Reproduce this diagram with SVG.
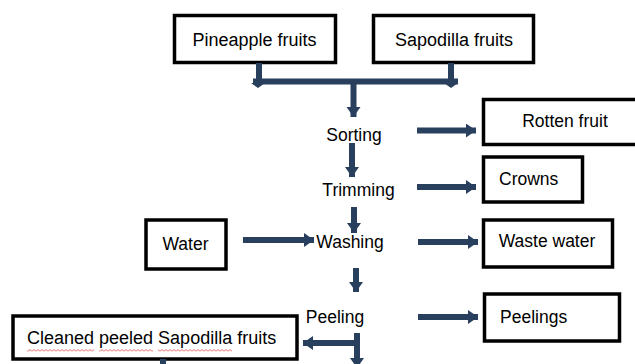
<svg xmlns="http://www.w3.org/2000/svg" width="635" height="364" viewBox="0 0 635 364">
<style>
.box{fill:#fff;stroke:#000;stroke-width:3.5}
.t{font-family:"Liberation Sans",Arial,sans-serif;font-size:17.5px;fill:#000}
.c{text-anchor:middle}
.a{stroke:#283f5e;stroke-width:6;fill:none}
.ah{stroke:#283f5e;stroke-width:6;fill:none;marker-end:url(#head)}
</style>
<defs>
<marker id="head" markerUnits="userSpaceOnUse" markerWidth="12" markerHeight="16" refX="10" refY="7" orient="auto">
<path d="M0,0 L10,7 L0,14 z" fill="#283f5e"/>
</marker>
<pattern id="wave" patternUnits="userSpaceOnUse" x="0" y="349" width="4" height="3">
<path d="M0,2.5 L2,0.5 L4,2.5" fill="none" stroke="#e03030" stroke-width="0.8"/>
</pattern>
</defs>

<g id="pineapple">
<rect class="box" x="174.5" y="15.5" width="161" height="47"/>
<text class="t c" x="254.5" y="46" style="font-size:18px">Pineapple fruits</text>
</g>
<g id="sapodilla">
<rect class="box" x="373.5" y="15.5" width="160" height="47"/>
<text class="t c" x="454" y="46" style="font-size:18px">Sapodilla fruits</text>
</g>
<g id="sorting"><text class="t c" x="354" y="141">Sorting</text></g>
<g id="trimming"><text class="t c" x="358.5" y="196">Trimming</text></g>
<g id="washing"><text class="t c" x="350" y="248">Washing</text></g>
<g id="peeling"><text class="t c" x="335" y="323">Peeling</text></g>
<g id="rotten">
<rect class="box" x="483.5" y="99.5" width="155" height="45"/>
<text class="t c" x="565" y="127">Rotten fruit</text>
</g>
<g id="crowns">
<rect class="box" x="483.5" y="157" width="99" height="45"/>
<text class="t" x="499" y="185">Crowns</text>
</g>
<g id="water">
<rect class="box" x="146" y="220" width="80" height="49"/>
<text class="t c" x="185.5" y="250">Water</text>
</g>
<g id="wastewater">
<rect class="box" x="483.5" y="220" width="129" height="47"/>
<text class="t c" x="547" y="247">Waste water</text>
</g>
<g id="peelings">
<rect class="box" x="484.5" y="294" width="135" height="47"/>
<text class="t" x="500" y="323">Peelings</text>
</g>
<g id="cleaned">
<rect class="box" x="13" y="316" width="284" height="43"/>
<text class="t" x="27" y="344" style="font-size:18px">Cleaned peeled Sapodilla fruits</text>
<rect x="27" y="349" width="67" height="3" fill="url(#wave)"/>
<rect x="99" y="349" width="54" height="3" fill="url(#wave)"/>
<rect x="158" y="349" width="74" height="3" fill="url(#wave)"/>
</g>

<g id="connectors">
<line class="a" x1="259" y1="63" x2="259" y2="82"/>
<line class="a" x1="451" y1="63" x2="451" y2="82"/>
<line class="a" x1="253" y1="81.5" x2="458" y2="81.5"/>
<path d="M251,83 L265,83 L258,88 z" fill="#283f5e"/>
<path d="M444,83 L458,83 L451,88 z" fill="#283f5e"/>
<line class="ah" x1="353.5" y1="84" x2="353.5" y2="117"/>
<line class="ah" x1="352" y1="143" x2="352" y2="177"/>
<line class="ah" x1="354" y1="207" x2="354" y2="233"/>
<line class="ah" x1="356" y1="268" x2="356" y2="292"/>
<line class="ah" x1="417" y1="130.5" x2="476" y2="130.5"/>
<line class="ah" x1="417" y1="187" x2="476" y2="187"/>
<line class="ah" x1="243" y1="240" x2="314" y2="240"/>
<line class="ah" x1="418" y1="242" x2="478" y2="242"/>
<line class="ah" x1="418" y1="317" x2="478" y2="317"/>
<line class="ah" x1="357" y1="333" x2="357" y2="368"/>
<line class="ah" x1="360" y1="343" x2="303" y2="343"/>
<line class="a" x1="163" y1="359" x2="163" y2="366"/>
</g>
</svg>
